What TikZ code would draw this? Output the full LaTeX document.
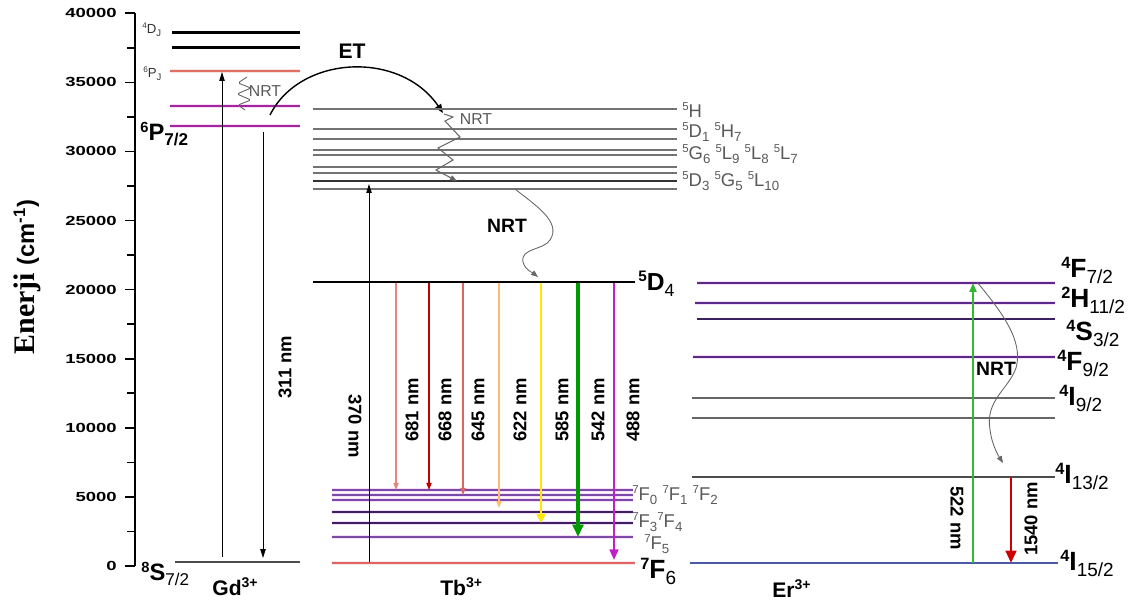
\documentclass[tikz,border=0pt]{standalone}
\usepackage{fontspec}
\setmainfont{Liberation Sans}
\newfontfamily\timesfont{Liberation Serif}
\newfontfamily\tickfont[FakeStretch=1.4]{Liberation Sans}
\usepackage{xcolor}
\usetikzlibrary{arrows.meta,positioning,calc}

\definecolor{lvlpurple}{HTML}{5A2A8A}
\definecolor{glowpink}{HTML}{F9DDF9}
\definecolor{gdmag}{HTML}{A0289F}
\definecolor{gdred}{HTML}{E07060}
\definecolor{tbpurple}{HTML}{7A4AA8}
\definecolor{tbdark}{HTML}{3A2060}
\definecolor{tbred}{HTML}{E06464}
\definecolor{erblue}{HTML}{4A5AA8}
\definecolor{tbmag}{HTML}{C020C8}

% term symbol: ^{a}X_{b}
\newcommand\lev[3]{\raisebox{.33em}{\scalebox{.62}{#1}}#2\raisebox{-.25em}{\scalebox{.72}{#3}}}
\newcommand\levr[3]{\lev{#1}{#2}{\mdseries #3}}

\begin{document}
\begin{tikzpicture}[x=0.02cm,y=-0.02cm,
    glow/.style={preaction={draw=glowpink,line width=2.6pt}},
    lbl/.style={anchor=base west,inner sep=0pt},
    term/.style={lbl,font=\fontsize{15}{15}\selectfont\bfseries},
    state/.style={lbl,text=black!65,font=\fontsize{10.5}{10.5}\selectfont},
    wl/.style={font=\fontsize{10.5}{10.5}\selectfont\bfseries,inner sep=0pt},
    ion/.style={lbl,font=\fontsize{12}{12}\selectfont\bfseries},
    nrt/.style={draw=black!60,line width=0.5pt},
    smallnrt/.style={text=black!65,inner sep=0pt,font=\fontsize{9}{9}\selectfont},
    bignrt/.style={inner sep=0pt,font=\fontsize{11}{11}\selectfont\bfseries},
    tick/.style={anchor=east,inner sep=0pt,font=\tickfont\fontsize{7.5}{7.5}\selectfont\bfseries},
    emit/.style={line width=#1,-{Triangle[length=4pt,width=3pt]}}
  ]
    \useasboundingbox (0,0) rectangle (1131,610);

    % Axis (69.1 px per 5000 cm-1)
    \draw[line width=0.9pt] (135,566) -- (135,13);
    \foreach \k/\lab in {0/0,1/5000,2/10000,3/15000,4/20000,5/25000,6/30000,7/35000,8/40000} {
        \draw[line width=0.9pt] (125,{566-69.1*\k}) -- (135,{566-69.1*\k});
        \node[tick] at (117,{566-69.1*\k}) {\lab};
    }
    \foreach \k in {0.5,1.5,...,7.5}
        \draw[line width=0.9pt] (127,{566-69.1*\k}) -- (135,{566-69.1*\k});
    \node[rotate=90] (axlabel) at (27,277) {{\timesfont\fontsize{17}{17}\selectfont\bfseries Enerji}\hspace{0.45em}{\fontsize{13.5}{13.5}\selectfont\bfseries(cm\textsuperscript{-1})}};

    % Gd3+ levels
    \draw[line width=1.7pt] (172,32) -- (300,32);
    \draw[line width=1.7pt] (172,47) -- (300,47);
    \draw[gdred,line width=0.9pt,preaction={draw=gdred!20,line width=2.3pt}] (170,71) -- (300,71);
    \draw[gdmag,line width=1.1pt,glow] (170,106) -- (300,106);
    \draw[gdmag,line width=1.1pt,glow] (170,126) -- (300,126);
    \draw[black!70,line width=1.1pt] (175,562) -- (300,562);
    \node[lbl,text=black!80,font=\fontsize{7.5}{7.5}\selectfont] (DJ) at (142,33) {\lev{4}{D}{J}};
    \node[lbl,text=black!80,font=\fontsize{7.5}{7.5}\selectfont] (PJ) at (143,77) {\lev{6}{P}{J}};
    \node[lbl,font=\fontsize{13.5}{13.5}\selectfont\bfseries] (P72) at (140,140) {\lev{6}{P}{7/2}};
    \node[lbl,font=\fontsize{13.5}{13.5}\selectfont\bfseries] (S72) at (141,580) {\levr{8}{S}{7/2}};
    \node[ion] (gd) at (212,595) {Gd\textsuperscript{3+}};

    % Gd3+ excitation / emission
    \draw[line width=0.5pt,-{Triangle[length=5pt,width=3pt]}] (222,557) -- (222,72);
    \draw[line width=0.5pt,-{Triangle[length=5pt,width=3pt]}] (263,132) -- (263,558);
    \node[wl,rotate=90] (l311) at (285,367) {311 nm};
    \draw[nrt,rounded corners=1pt] (247,77) -- (238,83) -- (251,88) -- (237,94) -- (251,100) -- (238,105) -- (245,110);
    \node[smallnrt] (nrtgd) at (265,91) {NRT};

    % ET
    \draw[line width=0.8pt,-{Triangle[length=5pt,width=4pt]}] (270,115) .. controls (300,55) and (400,50) .. (443,113);
    \node[bignrt,font=\fontsize{12}{12}\selectfont\bfseries] (et) at (352,51) {ET};

    % Tb3+ upper levels
    \foreach \y in {109,129,139,150,155,167,173,189}
        \draw[black!55,line width=0.8pt] (313,\y) -- (677,\y);
    \draw[black!80,line width=1pt] (313,181) -- (677,181);
    \node[state] (H) at (682,117) {\lev{5}{H}{}};
    \node[state] (D1) at (682,137) {\lev{5}{D}{1} \lev{5}{H}{7}};
    \node[state] (G6) at (682,159) {\lev{5}{G}{6} \lev{5}{L}{9} \lev{5}{L}{8} \lev{5}{L}{7}};
    \node[state] (D3) at (682,186) {\lev{5}{D}{3} \lev{5}{G}{5} \lev{5}{L}{10}};

    % NRT inside Tb3+
    \draw[nrt,line width=0.6pt,-{Triangle[length=4pt,width=3pt]}] (444,114) -- (453,117) -- (445,121) -- (460,137) -- (438,148) -- (453,160) -- (436,170) -- (457,181);
    \node[smallnrt] (nrttb) at (476,119) {NRT};
    \draw[nrt,-{Triangle[length=4pt,width=3pt]}] (515,189) .. controls (535,205) and (562,222) .. (550,240) .. controls (544,250) and (520,248) .. (523,262) .. controls (525,270) and (533,273) .. (538,277);
    \node[bignrt] (nrtd4) at (507,226) {NRT};

    % Tb3+ 5D4 and 7F levels
    \draw[line width=1.1pt] (313,282) -- (635,282);
    \node[lbl,font=\fontsize{14}{14}\selectfont\bfseries] (D4) at (638,290) {\levr{5}{D}{4}};
    \foreach \y/\w in {490/0.6,495/0.8,500/0.6,537/0.8}
        \draw[tbpurple,line width=\w pt,glow] (332,\y) -- (633,\y);
    \foreach \y in {512,523}
        \draw[tbdark,line width=1.1pt,glow] (332,\y) -- (633,\y);
    \draw[tbred,line width=1.1pt,preaction={draw=tbred!15,line width=2.8pt}] (332,563) -- (635,563);
    \node[state] (F0) at (632,500) {\lev{7}{F}{0} \lev{7}{F}{1} \lev{7}{F}{2}};
    \node[state] (F3) at (632,527) {\lev{7}{F}{3}\lev{7}{F}{4}};
    \node[state] (F5) at (644,549) {\lev{7}{F}{5}};
    \node[term] (F6) at (640,578) {\levr{7}{F}{6}};
    \node[ion] (tb) at (440,595) {Tb\textsuperscript{3+}};

    % Tb3+ excitation / emissions
    \draw[line width=0.5pt,-{Triangle[length=5pt,width=3pt]}] (369,562) -- (369,184);
    \node[wl,rotate=-90] (l370) at (355,426) {370 nm};
    \draw[emit=0.6pt,draw=tbred!80] (396,283) -- (396,490);
    \draw[emit=0.6pt,draw=red!75!black] (429,283) -- (429,490);
    \draw[emit=0.6pt,draw=tbred] (463,283) -- (463,495);
    \draw[emit=0.7pt,draw=orange!55] (499,283) -- (499,508);
    \draw[line width=1.3pt,draw=yellow!90!orange,-{Triangle[length=5pt,width=5pt]}] (541,283) -- (541,523);
    \draw[line width=1.8pt,draw=green!60!black,-{Triangle[length=7pt,width=6pt]}] (578,283) -- (578,537);
    \draw[line width=1.2pt,draw=tbmag,-{Triangle[length=6pt,width=5pt]}] (614,283) -- (614,560);
    \node[wl,rotate=90] at (412,410) {681 nm};
    \node[wl,rotate=90] at (445,410) {668 nm};
    \node[wl,rotate=90] at (478,410) {645 nm};
    \node[wl,rotate=90] at (520,410) {622 nm};
    \node[wl,rotate=90] at (562,410) {585 nm};
    \node[wl,rotate=90] at (598,410) {542 nm};
    \node[wl,rotate=90] at (633,410) {488 nm};

    % Er3+ levels
    \draw[lvlpurple,line width=1.4pt,glow] (697,283) -- (1055,283);
    \draw[lvlpurple,line width=1.1pt,glow] (695,303) -- (1055,303);
    \draw[tbdark,line width=0.8pt] (697,319) -- (1055,319);
    \draw[lvlpurple,line width=1.3pt,glow] (693,357) -- (1055,357);
    \draw[black!60,line width=0.6pt] (692,398) -- (1055,398);
    \draw[black!60,line width=0.6pt] (692,418) -- (1055,418);
    \draw[black!70,line width=1pt] (692,477) -- (1055,477);
    \draw[erblue,line width=1.1pt] (690,563) -- (1058,563);
    \node[term] (F72) at (1061,277) {\levr{4}{F}{7/2}};
    \node[term] (H112) at (1061,307) {\levr{2}{H}{11/2}};
    \node[term] (S32) at (1066,340) {\levr{4}{S}{3/2}};
    \node[term] (F92) at (1057,370) {\levr{4}{F}{9/2}};
    \node[term] (I92) at (1059,405) {\levr{4}{I}{9/2}};
    \node[term] (I132) at (1055,483) {\levr{4}{I}{13/2}};
    \node[term] (I152) at (1060,570) {\levr{4}{I}{15/2}};
    \node[ion] (er) at (772,597) {Er\textsuperscript{3+}};

    % Er3+ transitions
    \draw[line width=1.1pt,draw=green!65!black!80,-{Triangle[length=5pt,width=4pt]}] (973,563) -- (973,283);
    \node[wl,rotate=-90] (l522) at (957,518) {522 nm};
    \draw[line width=1.5pt,draw=red!80!black,-{Triangle[length=7pt,width=6pt]}] (1011,477) -- (1011,563);
    \node[wl,rotate=90] (l1540) at (1031,519) {1540 nm};
    \draw[nrt,-{Triangle[length=4pt,width=3pt]}] (977,282) .. controls (1000,310) and (1024,340) .. (1016,368) .. controls (1008,390) and (985,400) .. (990,430) .. controls (992,445) and (998,455) .. (1003,463);
    \node[bignrt] (nrter) at (996,369) {NRT};
\end{tikzpicture}
\end{document}
